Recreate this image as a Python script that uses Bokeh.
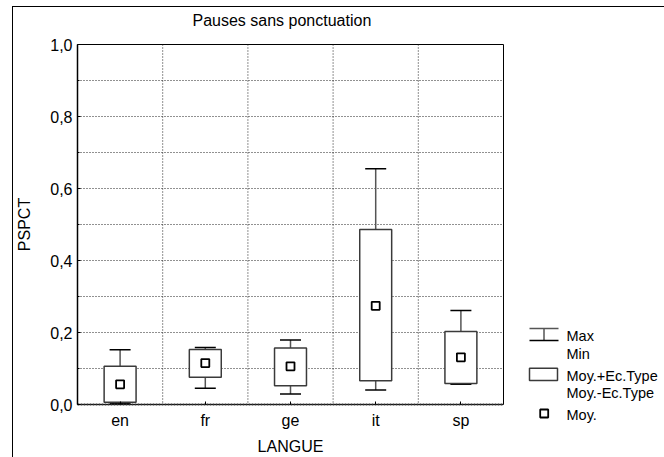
from bokeh.plotting import figure
from bokeh.models import (Range1d, FactorRange, FixedTicker, CustomJSTickFormatter, Span,
                          Whisker, TeeHead, ColumnDataSource)
from bokeh.layouts import row, column
from bokeh.embed import file_html
from bokeh.resources import INLINE
from bokeh.core.properties import value

categories = ["en", "fr", "ge", "it", "sp"]
mean = [0.056, 0.115, 0.106, 0.274, 0.131]
sd_hi = [0.106, 0.153, 0.157, 0.486, 0.203]
sd_lo = [0.006, 0.076, 0.052, 0.066, 0.058]
vmax = [0.152, 0.158, 0.179, 0.655, 0.261]
vmin = [0.003, 0.045, 0.029, 0.040, 0.056]

title_text = "Pauses sans ponctuation"
x_label = "LANGUE"
y_label = "PSPCT"
legend_labels = ["Max", "Min", "Moy.+Ec.Type", "Moy.-Ec.Type", "Moy."]

FONT = "Liberation Sans"
FS = "16px"

src = ColumnDataSource(dict(cat=categories, mean=mean, hi=sd_hi, lo=sd_lo, mx=vmax, mn=vmin))

H = 450
TH = 26
MW = 495

# title strip (coordinates = pixels in its own canvas)
tf = figure(x_range=Range1d(0, MW), y_range=Range1d(TH, 0), width=MW, height=TH,
            output_backend="svg", toolbar_location=None,
            min_border_left=0, min_border_right=0, min_border_top=0, min_border_bottom=0,
            x_axis_type=None, y_axis_type=None)
tf.outline_line_color = None
tf.grid.visible = False
tf.text(x=[179], y=[13], text=[title_text], text_font=value(FONT), text_font_size=FS,
        text_baseline="middle", text_align="left", text_color="black")

p = figure(x_range=FactorRange(*categories), y_range=Range1d(0, 1),
           width=MW, height=H - TH, output_backend="svg", toolbar_location=None,
           min_border_left=64, min_border_right=5, min_border_top=11, min_border_bottom=53)
p.outline_line_color = "black"
p.outline_line_width = 1
p.title.visible = False

# grid
p.xgrid.visible = False
p.ygrid.ticker = FixedTicker(ticks=[0.1, 0.2, 0.3, 0.4, 0.5, 0.6, 0.7, 0.8, 0.9])
p.ygrid.grid_line_color = "#222222"
p.ygrid.grid_line_dash = "1 2"
p.ygrid.grid_line_width = 1
for b in [1, 2, 3, 4]:
    p.add_layout(Span(location=b, dimension="height", line_color="#222222",
                      line_dash="1 2", line_width=1))

# axes
p.yaxis.ticker = FixedTicker(ticks=[0, 0.2, 0.4, 0.6, 0.8, 1.0],
                             minor_ticks=[0.1, 0.3, 0.5, 0.7, 0.9])
p.yaxis.formatter = CustomJSTickFormatter(code="return tick.toFixed(1).replace('.', ',');")
p.yaxis.axis_line_color = "black"
p.yaxis.axis_line_width = 1.5
p.yaxis.major_tick_in = 3
p.yaxis.major_tick_out = 0
p.yaxis.minor_tick_in = 2
p.yaxis.minor_tick_out = 0
p.yaxis.major_label_standoff = 5
p.yaxis.axis_label = y_label
p.yaxis.axis_label_standoff = 14
p.xaxis.axis_line_color = "#333333"
p.xaxis.axis_line_width = 2
p.xaxis.axis_line_dash = "2 1"
p.xaxis.major_tick_in = 3
p.xaxis.major_tick_out = 0
p.xaxis.major_label_standoff = 7
p.xaxis.axis_label = x_label
p.xaxis.axis_label_standoff = 6
for ax in (p.xaxis, p.yaxis):
    ax.major_label_text_font = FONT
    ax.major_label_text_font_size = FS
    ax.major_label_text_color = "black"
    ax.axis_label_text_font = FONT
    ax.axis_label_text_font_size = FS
    ax.axis_label_text_font_style = "normal"
    ax.axis_label_text_color = "black"
    ax.major_tick_line_color = "black"

# boxes (mean +/- sd)
p.vbar(x="cat", bottom="lo", top="hi", width=0.375, source=src,
       fill_color="white", line_color="#3a3a3a", line_width=1.5)

# whiskers
p.add_layout(Whisker(base="cat", lower="hi", upper="mx", source=src,
                     line_color="#555555", line_width=1.5,
                     upper_head=TeeHead(size=21, line_color="black", line_width=1.5),
                     lower_head=None))
p.add_layout(Whisker(base="cat", lower="mn", upper="lo", source=src,
                     line_color="#555555", line_width=1.5,
                     lower_head=TeeHead(size=21, line_color="black", line_width=1.5),
                     upper_head=None))

# means
p.scatter(x="cat", y="mean", source=src, marker="square", size=8,
          fill_color="white", line_color="black", line_width=1.8)

# legend panel (coordinates = pixels in its own canvas)
LW = 156
lg = figure(x_range=Range1d(0, LW), y_range=Range1d(H, 0), width=LW, height=H,
            output_backend="svg", toolbar_location=None,
            min_border_left=0, min_border_right=0, min_border_top=0, min_border_bottom=0,
            x_axis_type=None, y_axis_type=None)
lg.outline_line_color = None
lg.grid.visible = False
lg.segment(x0=[21], y0=[321], x1=[50], y1=[321], line_color="#555555", line_width=1.5)
lg.segment(x0=[35.5], y0=[321], x1=[35.5], y1=[333], line_color="#555555", line_width=1.5)
lg.segment(x0=[21], y0=[333], x1=[50], y1=[333], line_color="black", line_width=1.5)
lg.quad(left=[21], right=[49], top=[360.7], bottom=[373], fill_color="white",
        line_color="#3a3a3a", line_width=1.5)
lg.scatter(x=[35.7], y=[406], marker="square", size=8, fill_color="white",
           line_color="black", line_width=1.8)
lg.text(x=[58] * 5, y=[328, 346, 368, 385, 407], text=legend_labels,
        text_font=value(FONT), text_font_size="14.5px", text_baseline="middle",
        text_align="left", text_color="black")

left = column(column(tf), p)
layout = row(left, column(lg), margin=(6, 0, 0, 12),
             styles={"border-top": "1px solid black", "border-left": "1px solid black"})

open("out.html", "w").write(file_html(layout, INLINE))
